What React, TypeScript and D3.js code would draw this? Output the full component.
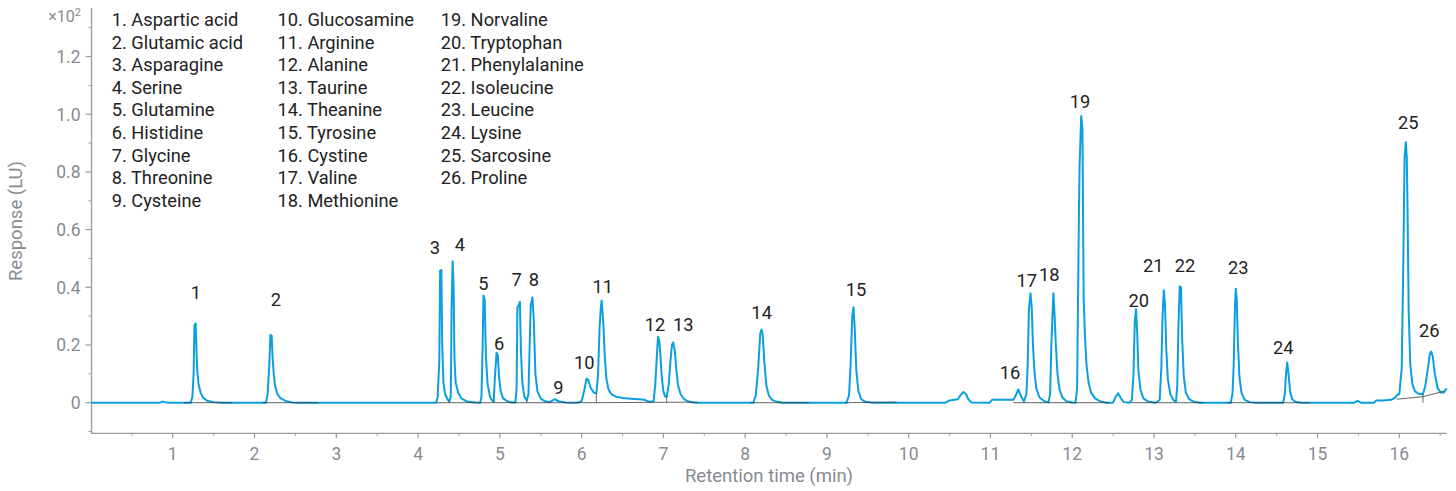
import React from "react";
import * as d3 from "d3";

// ---------- DATA ----------
const compounds: string[] = [
  "Aspartic acid", "Glutamic acid", "Asparagine", "Serine", "Glutamine", "Histidine",
  "Glycine", "Threonine", "Cysteine", "Glucosamine", "Arginine", "Alanine", "Taurine",
  "Theanine", "Tyrosine", "Cystine", "Valine", "Methionine", "Norvaline", "Tryptophan",
  "Phenylalanine", "Isoleucine", "Leucine", "Lysine", "Sarcosine", "Proline",
];

// chromatogram trace: [retention time (min), response (LU ×10²)]
const trace: [number, number][] = [
  [0, 0], [0.84, 0], [0.87, 0.004], [0.9, 0.002], [0.95, 0],
  [1.22, 0], [1.24, 0.02], [1.255, 0.1], [1.265, 0.268], [1.28, 0.275], [1.29, 0.18], [1.3, 0.11], [1.315, 0.065], [1.34, 0.035], [1.37, 0.018], [1.42, 0.007], [1.5, 0.002], [1.6, 0],
  [2.14, 0], [2.16, 0.03], [2.18, 0.13], [2.195, 0.235], [2.21, 0.232], [2.22, 0.16], [2.235, 0.1], [2.25, 0.06], [2.28, 0.03], [2.32, 0.015], [2.38, 0.006], [2.46, 0.001], [2.55, 0],
  [4.22, 0], [4.24, 0.02], [4.26, 0.15], [4.27, 0.458], [4.285, 0.46], [4.295, 0.2], [4.31, 0.07], [4.33, 0.03], [4.36, 0.012], [4.38, 0.004],
  [4.4, 0.02], [4.41, 0.33], [4.423, 0.49], [4.435, 0.4], [4.445, 0.15], [4.46, 0.07], [4.49, 0.035], [4.53, 0.015], [4.6, 0.004], [4.7, 0.001], [4.76, 0],
  [4.775, 0.02], [4.79, 0.2], [4.8, 0.372], [4.815, 0.356], [4.83, 0.16], [4.85, 0.065], [4.88, 0.02], [4.91, 0.006], [4.925, 0.004],
  [4.94, 0.09], [4.96, 0.173], [4.975, 0.165], [4.99, 0.09], [5.01, 0.04], [5.04, 0.015], [5.09, 0.005], [5.15, 0.001], [5.19, 0.001],
  [5.205, 0.05], [5.215, 0.33], [5.235, 0.34], [5.245, 0.35], [5.258, 0.18], [5.275, 0.07], [5.3, 0.02], [5.33, 0.008],
  [5.35, 0.03], [5.365, 0.2], [5.378, 0.338], [5.398, 0.365], [5.415, 0.29], [5.435, 0.1], [5.46, 0.04], [5.5, 0.014], [5.56, 0.004], [5.61, 0.002],
  [5.67, 0.012], [5.72, 0.005], [5.8, 0.001], [5.95, 0],
  [6.0, 0.005], [6.03, 0.04], [6.06, 0.083], [6.08, 0.08], [6.11, 0.052], [6.15, 0.035], [6.18, 0.033],
  [6.2, 0.09], [6.22, 0.26], [6.235, 0.33], [6.245, 0.354], [6.265, 0.28], [6.285, 0.15], [6.305, 0.08], [6.33, 0.045], [6.37, 0.028], [6.42, 0.021], [6.5, 0.016], [6.6, 0.014], [6.7, 0.012], [6.77, 0.01], [6.83, 0.003], [6.88, 0.005],
  [6.9, 0.06], [6.92, 0.16], [6.935, 0.229], [6.95, 0.215], [6.965, 0.16], [6.98, 0.09], [7.0, 0.04], [7.02, 0.022], [7.04, 0.02],
  [7.065, 0.06], [7.085, 0.14], [7.105, 0.2], [7.12, 0.209], [7.14, 0.18], [7.16, 0.11], [7.18, 0.06], [7.21, 0.03], [7.25, 0.013], [7.3, 0.005], [7.36, 0.001], [7.42, 0],
  [8.1, 0], [8.13, 0.025], [8.16, 0.12], [8.185, 0.24], [8.2, 0.254], [8.215, 0.235], [8.235, 0.14], [8.26, 0.06], [8.29, 0.025], [8.33, 0.01], [8.39, 0.003], [8.46, 0],
  [9.24, 0], [9.27, 0.025], [9.29, 0.13], [9.31, 0.3], [9.325, 0.331], [9.34, 0.26], [9.36, 0.11], [9.385, 0.04], [9.42, 0.012], [9.47, 0.003], [9.55, 0],
  [10.45, 0], [10.5, 0.008], [10.6, 0.012], [10.64, 0.028], [10.67, 0.037], [10.7, 0.03], [10.73, 0.012], [10.77, 0.001], [10.99, 0], [11.02, 0.01], [11.28, 0.01],
  [11.31, 0.025], [11.34, 0.046], [11.37, 0.025], [11.41, 0.004],
  [11.44, 0.03], [11.455, 0.125], [11.47, 0.32], [11.49, 0.379], [11.505, 0.33], [11.52, 0.2], [11.535, 0.12], [11.56, 0.05], [11.6, 0.018], [11.66, 0.005], [11.71, 0.001],
  [11.73, 0.03], [11.745, 0.2], [11.755, 0.275], [11.77, 0.379], [11.785, 0.3], [11.8, 0.2], [11.82, 0.1], [11.845, 0.045], [11.88, 0.018], [11.93, 0.005], [12.0, 0.001], [12.04, 0],
  [12.06, 0.05], [12.08, 0.6], [12.09, 0.82], [12.11, 0.994], [12.125, 0.95], [12.14, 0.36], [12.155, 0.24], [12.175, 0.13], [12.2, 0.07], [12.23, 0.035], [12.28, 0.015], [12.35, 0.004], [12.42, 0],
  [12.5, 0], [12.53, 0.02], [12.56, 0.033], [12.59, 0.018], [12.63, 0.002], [12.7, 0],
  [12.73, 0.01], [12.75, 0.1], [12.765, 0.28], [12.78, 0.324], [12.795, 0.24], [12.81, 0.11], [12.835, 0.045], [12.87, 0.015], [12.93, 0.004], [13.02, 0],
  [13.07, 0.01], [13.09, 0.12], [13.105, 0.3], [13.12, 0.39], [13.135, 0.34], [13.15, 0.19], [13.17, 0.08], [13.2, 0.03], [13.24, 0.008], [13.27, 0.004],
  [13.285, 0.06], [13.3, 0.27], [13.315, 0.404], [13.33, 0.4], [13.345, 0.22], [13.365, 0.09], [13.39, 0.035], [13.43, 0.012], [13.49, 0.003], [13.56, 0],
  [13.94, 0], [13.96, 0.03], [13.975, 0.13], [13.99, 0.33], [14.0, 0.395], [14.012, 0.36], [14.025, 0.22], [14.045, 0.09], [14.07, 0.035], [14.11, 0.01], [14.17, 0.002], [14.25, 0],
  [14.58, 0], [14.6, 0.03], [14.615, 0.1], [14.63, 0.139], [14.645, 0.1], [14.665, 0.04], [14.69, 0.012], [14.73, 0.003], [14.8, 0],
  [15.45, 0], [15.49, 0.006], [15.53, 0], [15.69, 0], [15.72, 0.008], [15.8, 0.008], [15.9, 0.01], [15.95, 0.018], [15.975, 0.027], [16.0, 0.03],
  [16.03, 0.12], [16.05, 0.5], [16.065, 0.85], [16.08, 0.903], [16.092, 0.85], [16.1, 0.7], [16.115, 0.32], [16.135, 0.13], [16.16, 0.065], [16.19, 0.04], [16.24, 0.03], [16.29, 0.03],
  [16.32, 0.06], [16.35, 0.12], [16.375, 0.17], [16.39, 0.177], [16.41, 0.16], [16.435, 0.1], [16.47, 0.05], [16.51, 0.035], [16.545, 0.035], [16.58, 0.05],
];

// integration baselines: [t0, y0, t1, y1]
const baselines: [number, number, number, number][] = [
  [1.14, 0, 1.73, 0], [2.1, 0, 2.77, 0], [4.22, 0, 6.18, 0], [6.18, 0, 7.42, 0.002],
  [8.07, 0, 8.78, 0], [9.22, 0, 9.85, 0.002], [11.28, 0, 12.45, 0], [12.71, 0, 13.6, 0],
  [13.9, 0, 14.9, 0], [15.97, 0.012, 16.29, 0.021], [16.29, 0.021, 16.55, 0.04],
];
// peak separation drop lines: [t, top]
const drops: [number, number][] = [
  [4.38, 0.004], [4.925, 0.004], [5.33, 0.008], [6.18, 0.033], [7.04, 0.02], [16.29, 0.03],
];

// peak label positions (centre) in data units
const labelT: number[] = [1.284, 2.262, 4.207, 4.513, 4.798, 4.993, 5.206, 5.418, 5.715, 6.033, 6.258, 6.897, 7.244, 8.202, 9.355, 11.239, 11.443, 11.719, 12.095, 12.813, 12.991, 13.379, 14.031, 14.581, 16.11, 16.367];
const labelY: number[] = [0.384, 0.359, 0.537, 0.55, 0.414, 0.206, 0.429, 0.429, 0.053, 0.14, 0.402, 0.273, 0.273, 0.312, 0.393, 0.106, 0.423, 0.443, 1.043, 0.356, 0.477, 0.477, 0.468, 0.191, 0.971, 0.252];

const xTicks: number[] = [1, 2, 3, 4, 5, 6, 7, 8, 9, 10, 11, 12, 13, 14, 15, 16];
const yTicks: number[] = [0, 0.2, 0.4, 0.6, 0.8, 1.0, 1.2];

// ---------- CHART ----------
const W = 1456;
const H = 491;
const AXIS = "#9b9b9b";
const TICKTXT = "#878b91";
const BLUE = "#0a9fe0";
const FONT = "Roboto, 'Noto Sans', sans-serif";

export default function App() {
  const x = d3.scaleLinear().domain([0, 16.58]).range([91, 1446.7]);
  const y = d3.scaleLinear().domain([0, 1.2]).range([402.7, 56.5]);
  const yTop = 8;
  const yBot = 433.3;
  const xMinor = d3.range(0.5, 16.6, 0.5).filter((v) => Math.abs(v - Math.round(v)) > 0.01);
  const yMinor = d3.range(-0.1, 1.35, 0.1).filter((v) => Math.abs(v * 5 - Math.round(v * 5)) > 0.01);
  const line = d3.line<[number, number]>().x((d) => x(d[0])).y((d) => y(d[1])).curve(d3.curveLinear);

  return (
    <svg width={W} height={H} style={{ position: "absolute", left: 0, top: 0, display: "block" }} fontFamily={FONT}>
      <rect width={W} height={H} fill="#fff" />
      {/* y axis */}
      <line x1={91.5} x2={91.5} y1={yTop} y2={yBot} stroke={AXIS} strokeWidth={1.3} />
      {yTicks.map((v) => (
        <g key={"yt" + v}>
          <line x1={85.5} x2={91.5} y1={y(v)} y2={y(v)} stroke={AXIS} strokeWidth={1.2} />
          <text x={80.5} y={y(v)} dy="0.36em" textAnchor="end" fontSize={17.5} fill={TICKTXT}>
            {v === 0 ? "0" : v.toFixed(1)}
          </text>
        </g>
      ))}
      {yMinor.map((v, i) => (
        <line key={"ym" + i} x1={88.5} x2={91.5} y1={y(v)} y2={y(v)} stroke={AXIS} strokeWidth={1} />
      ))}
      <text x={81} y={22} textAnchor="end" fontSize={16} fill={TICKTXT}>
        ×10<tspan dy={-6} fontSize={11}>2</tspan>
      </text>
      <text transform={`translate(22,221) rotate(-90)`} textAnchor="middle" fontSize={18.5} fill={TICKTXT}>
        Response (LU)
      </text>
      {/* x axis */}
      <line x1={91} x2={1446.7} y1={yBot} y2={yBot} stroke={AXIS} strokeWidth={1.3} />
      {xTicks.map((v) => (
        <g key={"xt" + v}>
          <line x1={x(v)} x2={x(v)} y1={yBot} y2={yBot + 5} stroke={AXIS} strokeWidth={1.2} />
          <text x={x(v)} y={459.5} textAnchor="middle" fontSize={17.5} fill={TICKTXT}>
            {v}
          </text>
        </g>
      ))}
      {xMinor.map((v, i) => (
        <line key={"xm" + i} x1={x(v)} x2={x(v)} y1={yBot} y2={yBot + 2.5} stroke={AXIS} strokeWidth={1} />
      ))}
      <text x={769} y={482} textAnchor="middle" fontSize={18.5} fill={TICKTXT}>
        Retention time (min)
      </text>

      {/* trace */}
      <path d={line(trace) ?? ""} fill="none" stroke={BLUE} strokeWidth={2} strokeLinejoin="round" />
      {/* integration baselines */}
      {baselines.map((b, i) => (
        <line key={"b" + i} x1={x(b[0])} y1={y(b[1])} x2={x(b[2])} y2={y(b[3])} stroke="#333" strokeWidth={1} opacity={0.75} />
      ))}
      {drops.map((d, i) => (
        <line key={"d" + i} x1={x(d[0])} x2={x(d[0])} y1={y(0)} y2={y(d[1])} stroke="#333" strokeWidth={1} opacity={0.75} />
      ))}

      {/* peak labels */}
      {labelT.map((t, i) => (
        <text key={"pl" + i} x={x(t)} y={y(labelY[i])} dy="0.36em" textAnchor="middle" fontSize={18.3} fill="#222">
          {i + 1}
        </text>
      ))}

      {/* legend */}
      {compounds.map((c, i) => {
        const col = Math.floor(i / 9);
        const row = i % 9;
        const lx = [111.7, 277.5, 440.7][col];
        return (
          <text key={"lg" + i} x={lx} y={26 + row * 22.6} fontSize={18.3} fill="#222">
            {`${i + 1}. ${c}`}
          </text>
        );
      })}
    </svg>
  );
}
